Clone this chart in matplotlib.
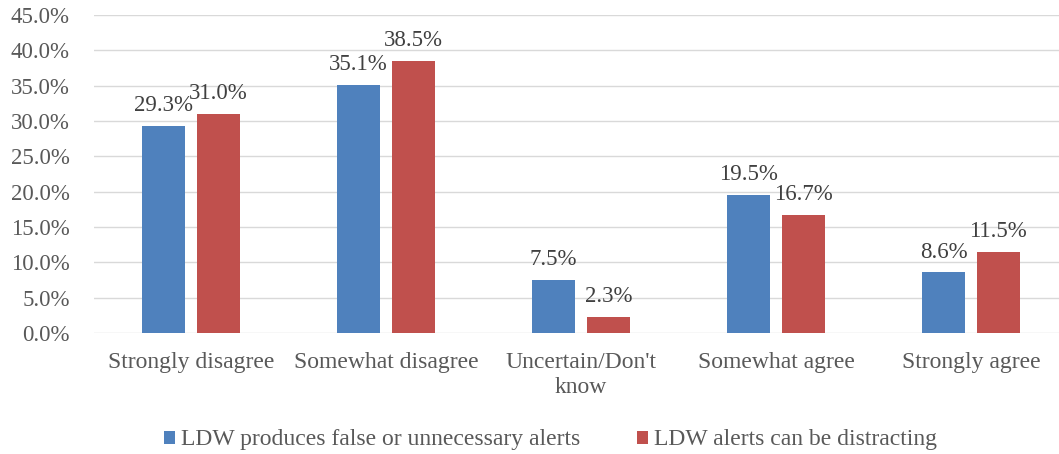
import numpy as np
import matplotlib.pyplot as plt
from matplotlib.ticker import FuncFormatter

categories = ["Strongly disagree", "Somewhat disagree", "Uncertain/Don't\nknow",
              "Somewhat agree", "Strongly agree"]
false_alerts = [29.3, 35.1, 7.5, 19.5, 8.6]
distracting = [31.0, 38.5, 2.3, 16.7, 11.5]
series_names = ["LDW produces false or unnecessary alerts",
                "LDW alerts can be distracting"]

plt.rcParams['font.family'] = ['Liberation Serif', 'DejaVu Serif']

fig = plt.figure(figsize=(10.59, 4.54), dpi=100)
ax = fig.add_axes([0.0883, 0.2665, 0.9207, 0.7005])

x = np.arange(len(categories))
w = 0.22
off = 0.14
b1 = ax.bar(x - off, false_alerts, w, color="#4F81BD", label=series_names[0], zorder=3)
b2 = ax.bar(x + off, distracting, w, color="#C0504D", label=series_names[1], zorder=3)

for bars, vals in ((b1, false_alerts), (b2, distracting)):
    for rect, v in zip(bars, vals):
        ax.annotate(f"{v:.1f}%", (rect.get_x() + rect.get_width() / 2, v),
                    xytext=(0, 7), textcoords="offset points",
                    ha="center", va="bottom", fontsize=16.5, color="#404040")

ax.set_ylim(0, 45)
ax.set_xlim(-0.5, 4.5)
ax.set_yticks(np.arange(0, 46, 5))
ax.yaxis.set_major_formatter(FuncFormatter(lambda v, p: f"{v:.1f}%"))
ax.grid(axis="y", color="#D9D9D9", linewidth=1, zorder=0)
for s in ax.spines.values():
    s.set_visible(False)
ax.tick_params(axis="y", length=0, labelsize=16.5, colors="#595959", pad=17)
ax.tick_params(axis="x", length=0, labelsize=17, colors="#595959", pad=14)
ax.set_xticks(x)
ax.set_xticklabels(categories, linespacing=1.25)

fig.legend(loc="center", bbox_to_anchor=(0.52, 0.031), ncol=2, frameon=False,
           fontsize=17, handlelength=0.47, handleheight=0.47, handletextpad=0.25,
           columnspacing=2.4, labelcolor="#595959")

fig.savefig("out.png", dpi=100)
